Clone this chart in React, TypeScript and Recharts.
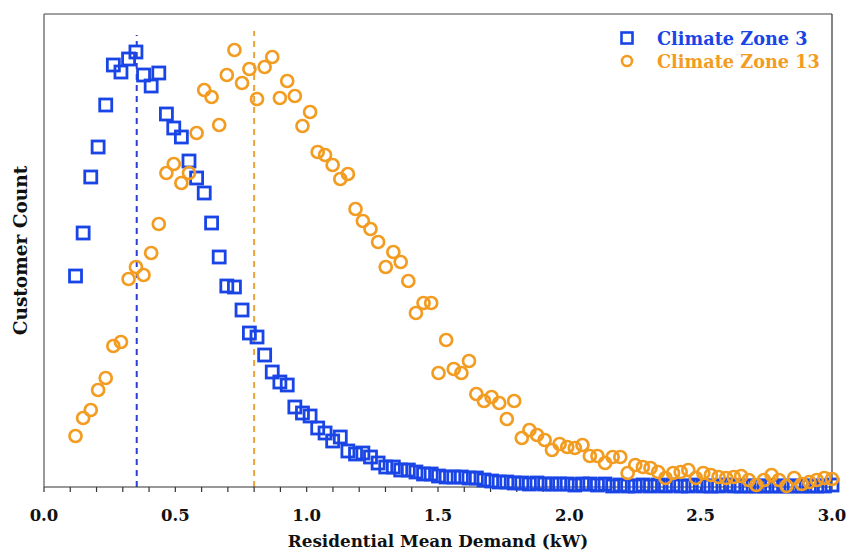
import React from "react";
import { ScatterChart, Scatter, XAxis, YAxis, ReferenceLine } from "recharts";

const xs = [
  0.12, 0.149, 0.178, 0.206, 0.235, 0.264, 0.293, 0.322, 0.35, 0.379,
  0.408, 0.437, 0.466, 0.494, 0.523, 0.552, 0.581, 0.61, 0.638, 0.667,
  0.696, 0.725, 0.754, 0.782, 0.811, 0.84, 0.869, 0.898, 0.926, 0.955,
  0.984, 1.013, 1.042, 1.07, 1.099, 1.128, 1.157, 1.186, 1.214, 1.243,
  1.272, 1.301, 1.33, 1.358, 1.387, 1.416, 1.445, 1.474, 1.502, 1.531,
  1.56, 1.589, 1.618, 1.646, 1.675, 1.704, 1.733, 1.762, 1.79, 1.819,
  1.848, 1.877, 1.906, 1.934, 1.963, 1.992, 2.021, 2.05, 2.078, 2.107,
  2.136, 2.165, 2.194, 2.222, 2.251, 2.28, 2.309, 2.338, 2.366, 2.395,
  2.424, 2.453, 2.482, 2.51, 2.539, 2.568, 2.597, 2.626, 2.654, 2.683,
  2.712, 2.741, 2.77, 2.798, 2.827, 2.856, 2.885, 2.914, 2.942, 2.971, 3.0,
];

const zone3Counts = [
  211, 254, 310, 340, 382, 422, 415, 428, 435, 412,
  401, 414, 373, 359, 350, 326, 309, 294, 264, 230,
  201, 200, 177, 154, 150, 132, 115, 105, 102, 80,
  74, 71, 59, 54, 46, 50, 36, 33, 34, 30,
  24, 20, 20, 17, 17, 15, 13, 13, 11, 10,
  10, 10, 9, 9, 7, 6, 5, 5, 4, 4,
  3, 4, 3, 3, 3, 3, 2, 3, 3, 2,
  3, 1, 2, 1, 1, 2, 1, 2, 1, 2,
  1, 1, 2, 1, 1, 1, 2, 1, 1, 1,
  1, 1, 1, 1, 1, 1, 1, 1, 1, 1, 2,
];

const zone13Counts = [
  51, 69, 77, 97, 109, 141, 145, 208, 220, 212,
  234, 263, 314, 323, 304, 314, 354, 397, 390, 362,
  412, 437, 404, 418, 388, 420, 430, 389, 406, 391,
  361, 375, 335, 332, 322, 308, 313, 278, 266, 258,
  245, 220, 235, 225, 206, 174, 184, 184, 114, 147,
  118, 114, 126, 93, 86, 90, 84, 68, 86, 49,
  57, 52, 47, 37, 43, 40, 39, 42, 31, 31,
  24, 30, 30, 14, 22, 20, 19, 15, 9, 14,
  15, 17, 9, 14, 12, 10, 9, 10, 11, 7,
  2, 7, 12, 7, 1, 9, 3, 5, 7, 9, 8,
];

const xTicks = [
  0, 0.1, 0.2, 0.3, 0.4, 0.5, 0.6, 0.7, 0.8, 0.9, 1.0, 1.1, 1.2, 1.3, 1.4, 1.5,
  1.6, 1.7, 1.8, 1.9, 2.0, 2.1, 2.2, 2.3, 2.4, 2.5, 2.6, 2.7, 2.8, 2.9, 3.0,
];
const xTickLabels = ["0.0", "0.5", "1.0", "1.5", "2.0", "2.5", "3.0"];

const meanZone3 = 0.353;
const meanZone13 = 0.8;

const seriesNames = ["Climate Zone 3", "Climate Zone 13"];
const BLUE = "#1a45e6";
const ORANGE = "#f39c22";
const FONT = "'DejaVu Serif', 'Liberation Serif', serif";

const zone3Data = xs.map((x, i) => ({ x, y: zone3Counts[i] }));
const zone13Data = xs.map((x, i) => ({ x, y: zone13Counts[i] }));

const SquareShape = (props: any) => {
  const { cx, cy } = props;
  if (cx == null || cy == null) return null;
  return (
    <rect x={cx - 6} y={cy - 6} width={12} height={12} fill="none" stroke={BLUE} strokeWidth={2.8} />
  );
};

const CircleShape = (props: any) => {
  const { cx, cy } = props;
  if (cx == null || cy == null) return null;
  return <circle cx={cx} cy={cy} r={6} fill="none" stroke={ORANGE} strokeWidth={2.7} />;
};

const YLabel = (props: any) => {
  const vb = props.viewBox || {};
  const cy = (vb.y || 0) + (vb.height || 0) / 2;
  return (
    <text
      x={27}
      y={cy}
      transform={`rotate(-90, 27, ${cy})`}
      textAnchor="middle"
      fontFamily={FONT}
      fontWeight="bold"
      fontSize={18.5}
      fill="#111"
    >
      Customer Count
    </text>
  );
};

const fmtTick = (v: number) => {
  const s = v.toFixed(1);
  return xTickLabels.includes(s) ? s : "";
};

export default function App() {
  return (
    <div style={{ position: "absolute", left: 0, top: 0, width: 847, height: 550, background: "#fff" }}>
      <ScatterChart width={847} height={550} margin={{ top: 14, right: 15, bottom: 0, left: 0 }}>
        <XAxis
          dataKey="x"
          type="number"
          domain={[0, 3]}
          ticks={xTicks}
          interval={0}
          tickFormatter={fmtTick}
          height={63}
          tickSize={5}
          tickMargin={17}
          axisLine={{ stroke: "#333", strokeWidth: 1.2 }}
          tickLine={{ stroke: "#333", strokeWidth: 1.2 }}
          tick={{ fontFamily: FONT, fontWeight: "bold", fontSize: 16.5, fill: "#111" }}
          label={{
            value: "Residential Mean Demand (kW)",
            position: "insideBottom",
            offset: 3,
            style: { fontFamily: FONT, fontWeight: "bold", fontSize: 16.8, fill: "#111" },
          }}
        />
        <YAxis
          dataKey="y"
          type="number"
          domain={[0, 473]}
          width={44}
          tick={false}
          tickLine={false}
          axisLine={{ stroke: "#555", strokeWidth: 1.2 }}
          label={<YLabel />}
        />
        <ReferenceLine y={473} stroke="#808080" strokeWidth={1.6} />
        <ReferenceLine x={3} stroke="#333" strokeWidth={1.2} />
        <ReferenceLine
          segment={[{ x: meanZone3, y: 0 }, { x: meanZone3, y: 452 }]}
          stroke="#2a3fd6"
          strokeWidth={2}
          strokeDasharray="6 5"
        />
        <ReferenceLine
          segment={[{ x: meanZone13, y: 0 }, { x: meanZone13, y: 456 }]}
          stroke="#e8a33a"
          strokeWidth={2}
          strokeDasharray="6 5"
        />
        <Scatter name={seriesNames[0]} data={zone3Data} shape={SquareShape} isAnimationActive={false} />
        <Scatter name={seriesNames[1]} data={zone13Data} shape={CircleShape} isAnimationActive={false} />
      </ScatterChart>
      <div style={{ position: "absolute", left: 619, top: 27, fontFamily: FONT, fontWeight: "bold", fontSize: 17.7 }}>
        <div style={{ display: "flex", alignItems: "center", height: 22, color: BLUE }}>
          <svg width={16} height={16} style={{ marginRight: 22 }}>
            <rect x={2.5} y={2.5} width={11} height={11} fill="none" stroke={BLUE} strokeWidth={2.6} />
          </svg>
          <span>{seriesNames[0]}</span>
        </div>
        <div style={{ display: "flex", alignItems: "center", height: 22, color: ORANGE, marginTop: 1 }}>
          <svg width={16} height={16} style={{ marginRight: 22 }}>
            <circle cx={8} cy={8} r={5} fill="none" stroke={ORANGE} strokeWidth={2.6} />
          </svg>
          <span>{seriesNames[1]}</span>
        </div>
      </div>
    </div>
  );
}
